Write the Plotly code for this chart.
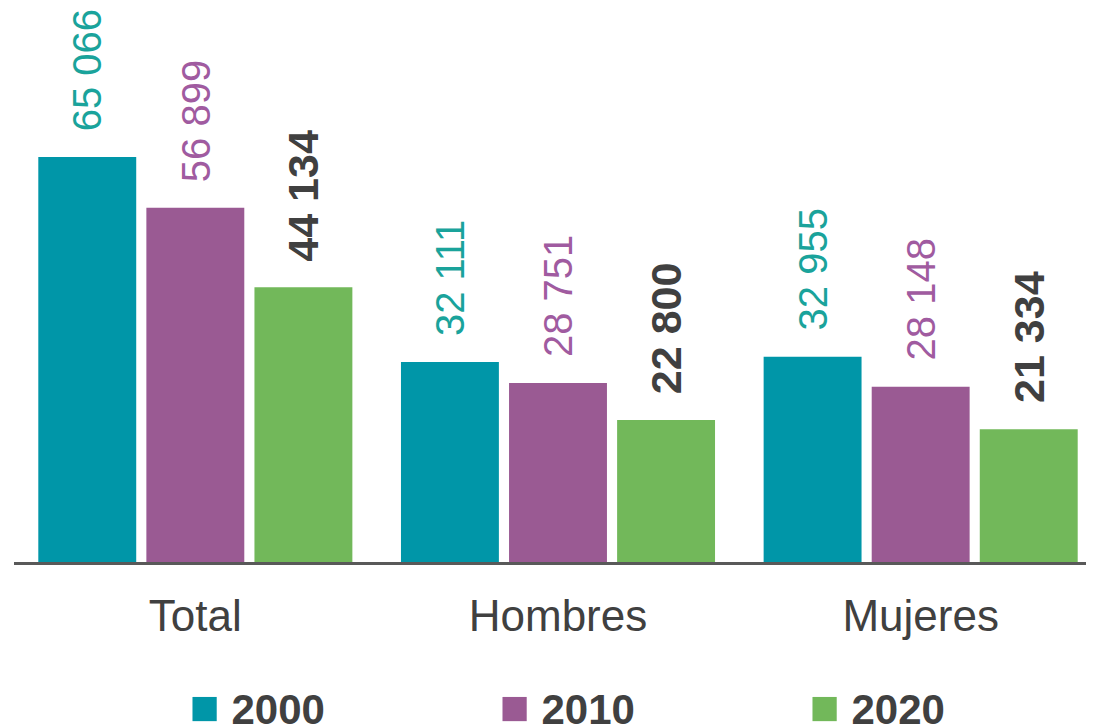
import plotly.graph_objects as go

categories = ["Total", "Hombres", "Mujeres"]
years = ["2000", "2010", "2020"]
v2000 = [65066, 32111, 32955]
v2010 = [56899, 28751, 28148]
v2020 = [44134, 22800, 21334]
series = [v2000, v2010, v2020]

bar_colors = ["#0096a8", "#9a5a93", "#72b85a"]
label_colors = ["#1aa39b", "#a05ba0", "#404040"]
label_bold = [False, False, True]
offsets = [-0.433, -0.135, 0.163]
bar_w = 0.27
FONT = "Liberation Sans, Arial, sans-serif"


def fmt(v):
    return f"{v:,}".replace(",", " ")


fig = go.Figure()
for k, (yr, vals) in enumerate(zip(years, series)):
    fig.add_trace(go.Bar(
        x=categories, y=vals, name=yr,
        marker=dict(color=bar_colors[k], line=dict(width=0)),
        width=bar_w, offset=offsets[k],
        showlegend=False, hoverinfo="x+y"
    ))
    # legend entry: coloured square glyph in the text, symbol itself hidden
    fig.add_trace(go.Scatter(
        x=[None], y=[None], mode="markers",
        name=f"<span style='color:{bar_colors[k]};font-size:50px'>■</span> {yr}",
        marker=dict(symbol="square", size=1, color="rgba(0,0,0,0)"),
        showlegend=True
    ))
    for i, v in enumerate(vals):
        txt = fmt(v)
        if label_bold[k]:
            txt = "<b>" + txt + "</b>"
        fig.add_annotation(
            x=i + offsets[k] + bar_w / 2, y=v, xref="x", yref="y",
            text=txt, showarrow=False, textangle=-90,
            xanchor="center", yanchor="bottom", yshift=24,
            font=dict(size=43 if label_bold[k] else 40, color=label_colors[k],
                      family=FONT)
        )

fig.update_layout(
    width=1094, height=725,
    margin=dict(l=6, r=0, t=0, b=171, autoexpand=False),
    plot_bgcolor="white", paper_bgcolor="white",
    font=dict(family=FONT, color="#404040"),
    xaxis=dict(type="category", range=[-0.5, 2.5], showline=True,
               linecolor="#595959", linewidth=3, ticks="", showgrid=False,
               tickfont=dict(size=44, color="#404040"), ticklabelstandoff=13),
    yaxis=dict(range=[0, 89000], visible=False, showgrid=False),
    legend=dict(orientation="h", x=0.552, xanchor="center", y=-0.2635,
                yanchor="middle", font=dict(size=42, color="#404040", family=FONT,
                                            weight="bold"),
                entrywidth=265, entrywidthmode="pixels"),
)

fig.write_html("out.html")
